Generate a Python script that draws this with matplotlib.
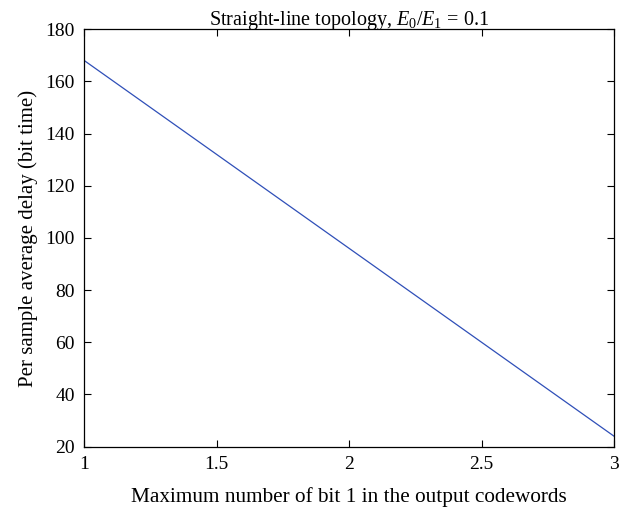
import matplotlib
matplotlib.use("Agg")
import matplotlib.pyplot as plt

max_bits = [1, 2, 3]
avg_delay = [168, 96, 24]

x_ticks = [1, 1.5, 2, 2.5, 3]
x_tick_labels = ["1", "1.5", "2", "2.5", "3"]
y_ticks = [20, 40, 60, 80, 100, 120, 140, 160, 180]

plt.rcParams["font.family"] = ["Liberation Serif", "DejaVu Serif"]
plt.rcParams["mathtext.fontset"] = "custom"
plt.rcParams["mathtext.rm"] = "Liberation Serif"
plt.rcParams["mathtext.it"] = "Liberation Serif:italic"

fig = plt.figure(figsize=(6.39, 5.14), dpi=100)
ax = fig.add_axes([0.132, 0.131, 0.829, 0.812])

ax.plot(max_bits, avg_delay, color="#2f4fb8", linewidth=0.9)

ax.set_xlim(1, 3)
ax.set_ylim(20, 180)
ax.set_xticks(x_ticks)
ax.set_xticklabels(x_tick_labels)
ax.set_yticks(y_ticks)
ax.tick_params(direction="in", top=True, right=True, length=5, width=0.8, labelsize=14)
ax.tick_params(axis="x", pad=7)
ax.tick_params(axis="y", pad=7)
for s in ax.spines.values():
    s.set_linewidth(0.9)

ax.set_title("Straight-line topology, $E_0/E_1\\,=\\,0.1$", fontsize=14.5, pad=3)
ax.set_xlabel("Maximum number of bit 1 in the output codewords", fontsize=15.3, labelpad=10)
ax.set_ylabel("Per sample average delay (bit time)", fontsize=15, labelpad=5)

fig.savefig("out.png", dpi=100)
